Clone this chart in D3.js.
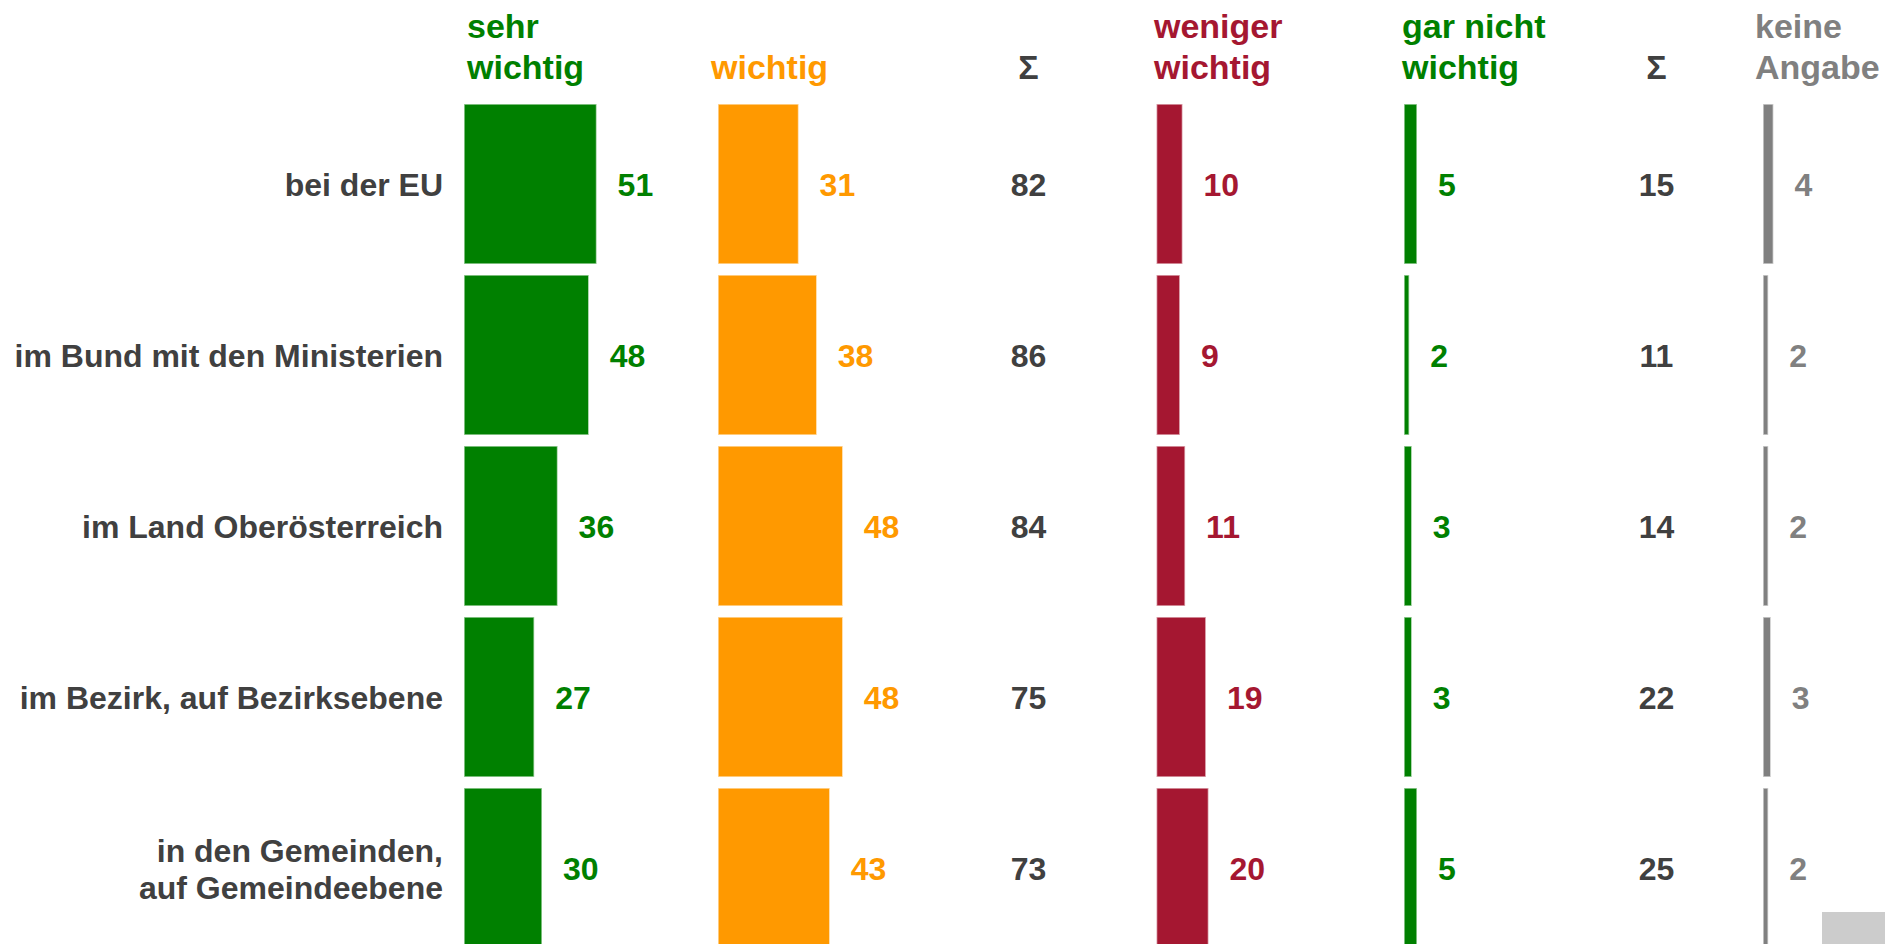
<!DOCTYPE html>
<html>
<head>
<meta charset="utf-8">
<script src="https://cdn.jsdelivr.net/npm/d3@7"></script>
<style>
	html, body { margin: 0; padding: 0; background: #fff; }
	svg { display: block; font-family: "Liberation Sans", Arial, sans-serif; font-weight: bold; }
</style>
</head>
<body>
<div class="container"></div>
<script>
var categories = ['bei der EU', 'im Bund mit den Ministerien', 'im Land Oberösterreich', 'im Bezirk, auf Bezirksebene', 'in den Gemeinden,|auf Gemeindeebene'];
var sehrWichtig = [51, 48, 36, 27, 30];
var wichtig = [31, 38, 48, 48, 43];
var summeWichtig = [82, 86, 84, 75, 73];
var wenigerWichtig = [10, 9, 11, 19, 20];
var garNichtWichtig = [5, 2, 3, 3, 5];
var summeUnwichtig = [15, 11, 14, 22, 25];
var keineAngabe = [4, 2, 2, 3, 2];

const WIDTH = 1885;
const HEIGHT = 944;
const DARK = '#404040';

// bar columns: header lines, values, colour, left edge of the bars
var barColumns = [
	{head: ['sehr', 'wichtig'], values: sehrWichtig, color: '#008000', x: 464, hx: 467},
	{head: ['wichtig'], values: wichtig, color: '#ff9900', x: 718, hx: 711},
	{head: ['weniger', 'wichtig'], values: wenigerWichtig, color: '#a51731', x: 1156.5, hx: 1154},
	{head: ['gar nicht', 'wichtig'], values: garNichtWichtig, color: '#008000', x: 1404, hx: 1402},
	{head: ['keine', 'Angabe'], values: keineAngabe, color: '#808080', x: 1763, hx: 1755}
];
var sumColumns = [
	{values: summeWichtig, x: 1028.5},
	{values: summeUnwichtig, x: 1656.5}
];

var svg = d3.select('.container').append('svg')
	.attr('width', WIDTH)
	.attr('height', HEIGHT);

var yScale = d3.scaleBand()
	.domain(categories)
	.range([98.5, 953.5])
	.paddingInner(11 / 171)
	.paddingOuter(5.5 / 171);

var xScale = d3.scaleLinear()
	.domain([0, 100])
	.range([0, 260]);

var rowCenter = function(d) { return yScale(d) + yScale.bandwidth() / 2; };

// row labels
var labels = svg.append('g').classed('labels', true)
	.selectAll('text').data(categories)
	.enter().append('text')
	.attr('text-anchor', 'end')
	.attr('font-size', 32)
	.attr('fill', DARK)
	.attr('x', 443)
	.attr('y', function(d) {
		var n = d.split('|').length;
		return rowCenter(d) + 12 - (n - 1) * 18;
	});
labels.selectAll('tspan')
	.data(function(d) { return d.split('|'); })
	.enter().append('tspan')
	.attr('x', 443)
	.attr('dy', function(d, i) { return i === 0 ? 0 : 37; })
	.text(function(d) { return d; });

// bar columns
barColumns.forEach(function(col) {
	var g = svg.append('g').classed('col', true);

	var head = g.append('text')
		.attr('font-size', 34)
		.attr('fill', col.color)
		.attr('x', col.hx)
		.attr('y', 79 - (col.head.length - 1) * 41);
	head.selectAll('tspan').data(col.head)
		.enter().append('tspan')
		.attr('x', col.hx)
		.attr('dy', function(d, i) { return i === 0 ? 0 : 41; })
		.text(function(d) { return d; });

	g.selectAll('rect').data(col.values)
		.enter().append('rect')
		.attr('x', col.x)
		.attr('y', function(d, i) { return yScale(categories[i]); })
		.attr('width', function(d) { return xScale(d); })
		.attr('height', yScale.bandwidth())
		.attr('fill', col.color)
		.attr('stroke', '#fff')
		.attr('stroke-opacity', 0.6)
		.attr('stroke-width', 1.6);

	g.selectAll('text.value').data(col.values)
		.enter().append('text')
		.classed('value', true)
		.attr('font-size', 32)
		.attr('fill', col.color)
		.attr('x', function(d) { return col.x + xScale(d) + 21; })
		.attr('y', function(d, i) { return rowCenter(categories[i]) + 12; })
		.text(function(d) { return d; });
});

// sum columns
sumColumns.forEach(function(col) {
	var g = svg.append('g').classed('sum', true);
	g.append('text')
		.attr('font-size', 34)
		.attr('fill', DARK)
		.attr('text-anchor', 'middle')
		.attr('x', col.x)
		.attr('y', 79)
		.text('Σ');
	g.selectAll('text.value').data(col.values)
		.enter().append('text')
		.classed('value', true)
		.attr('font-size', 32)
		.attr('fill', DARK)
		.attr('text-anchor', 'middle')
		.attr('x', col.x)
		.attr('y', function(d, i) { return rowCenter(categories[i]) + 12; })
		.text(function(d) { return d; });
});

// grey block bottom right
svg.append('rect')
	.attr('x', 1822)
	.attr('y', 912)
	.attr('width', 63)
	.attr('height', 32)
	.attr('fill', '#cccccc');
</script>
</body>
</html>
